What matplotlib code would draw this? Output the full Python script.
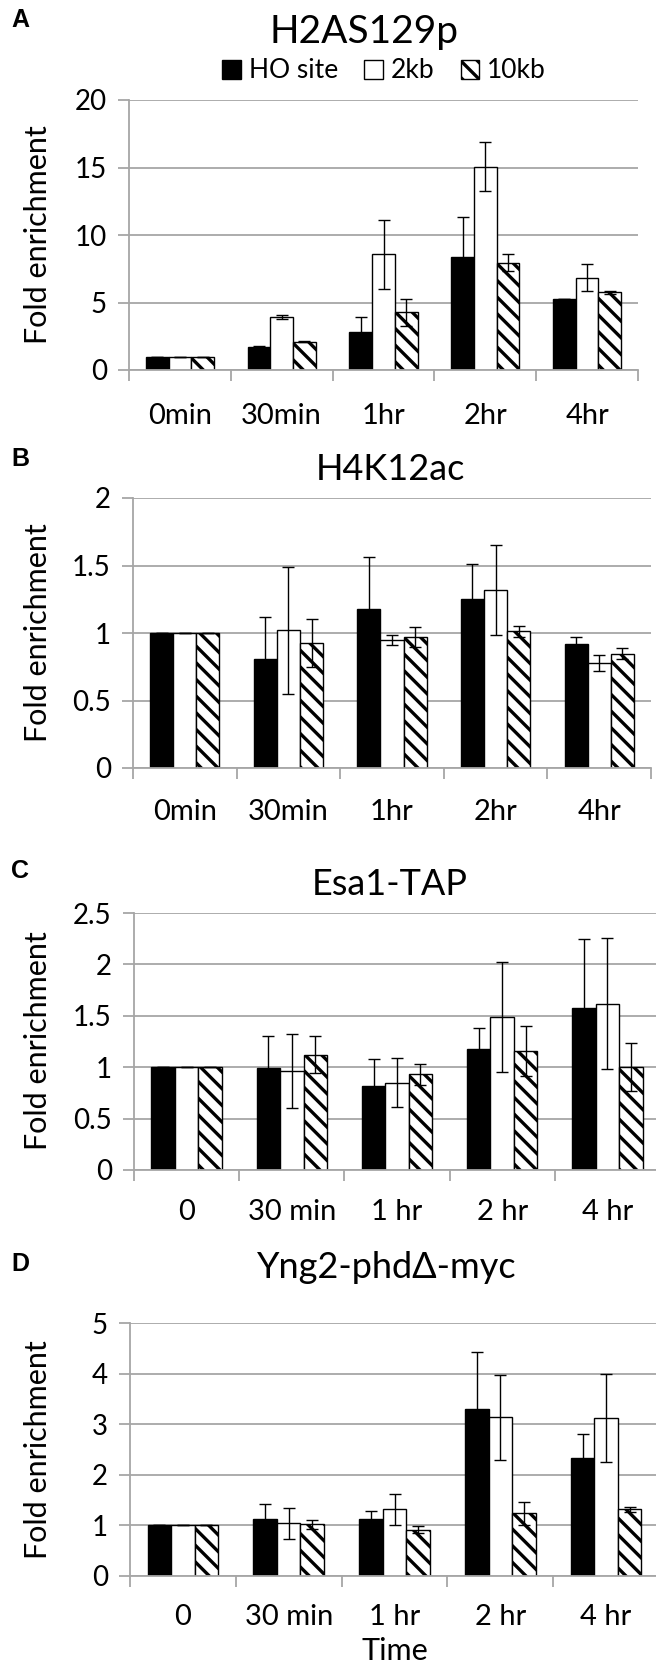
import matplotlib
matplotlib.use('Agg')
import matplotlib.pyplot as plt
from matplotlib.patches import Patch
import numpy as np

plt.rcParams['font.family'] = ['Lato', 'DejaVu Sans']
plt.rcParams['hatch.linewidth'] = 2.4

# ---------------- data ----------------
series = ["HO site", "2kb", "10kb"]
cats_ab = ["0min", "30min", "1hr", "2hr", "4hr"]
cats_cd = ["0", "30 min", "1 hr", "2 hr", "4 hr"]

a_ho = [1, 1.68, 2.84, 8.35, 5.26]
a_ho_err = [0, 0.08, 1.1, 2.95, 0.03]
a_2kb = [1, 3.9, 8.57, 15.06, 6.84]
a_2kb_err = [0, 0.15, 2.55, 1.8, 1.0]
a_10kb = [1, 2.1, 4.27, 7.95, 5.75]
a_10kb_err = [0, 0.05, 1.0, 0.65, 0.1]

b_ho = [1, 0.81, 1.18, 1.254, 0.916]
b_ho_err = [0, 0.31, 0.38, 0.255, 0.054]
b_2kb = [1, 1.02, 0.946, 1.32, 0.778]
b_2kb_err = [0, 0.47, 0.037, 0.335, 0.062]
b_10kb = [1, 0.926, 0.97, 1.012, 0.847]
b_10kb_err = [0, 0.18, 0.074, 0.043, 0.04]

c_ho = [1, 0.99, 0.818, 1.18, 1.58]
c_ho_err = [0, 0.315, 0.26, 0.2, 0.67]
c_2kb = [1, 0.967, 0.85, 1.49, 1.617]
c_2kb_err = [0, 0.36, 0.24, 0.535, 0.635]
c_10kb = [1, 1.12, 0.93, 1.16, 1.003]
c_10kb_err = [0, 0.18, 0.1, 0.245, 0.23]

d_ho = [1, 1.13, 1.12, 3.3, 2.34]
d_ho_err = [0, 0.3, 0.17, 1.13, 0.46]
d_2kb = [1, 1.04, 1.32, 3.14, 3.13]
d_2kb_err = [0, 0.3, 0.31, 0.84, 0.87]
d_10kb = [1, 1.02, 0.91, 1.24, 1.32]
d_10kb_err = [0, 0.09, 0.07, 0.23, 0.05]

titles = ["H2AS129p", "H4K12ac", "Esa1-TAP", "Yng2-phd\u0394-myc"]
letters = ["A", "B", "C", "D"]

# ---------------- layout ----------------
W, H = 656, 1663
fig = plt.figure(figsize=(W / 100, H / 100), dpi=100)
GRID = '#a6a6a6'


def axrect(l, r, t, b):
    return [l / W, 1 - b / H, (r - l) / W, (b - t) / H]


def panel(rect, cats, vals, errs, ymax, ystep, xpad):
    ax = fig.add_axes(rect)
    n = len(cats)
    x = np.arange(n)
    bw = 0.223
    styles = [dict(facecolor='black', edgecolor='black'),
              dict(facecolor='white', edgecolor='black'),
              dict(facecolor='white', edgecolor='black', hatch='\\\\')]
    for i, (v, e, st) in enumerate(zip(vals, errs, styles)):
        ax.bar(x + (i - 1) * bw, v, bw, linewidth=1, zorder=2, **st)
        ax.errorbar(x + (i - 1) * bw, v, yerr=e, fmt='none', ecolor='black',
                    elinewidth=1, capsize=4, capthick=1, zorder=3)
    ax.set_xlim(-0.5, n - 0.5)
    ax.set_ylim(0, ymax)
    ticks = np.arange(0, ymax + ystep / 2, ystep)
    ax.set_yticks(ticks)
    ax.set_yticklabels(['%g' % t for t in ticks], fontsize=20)
    ax.yaxis.grid(True, color=GRID, linewidth=1.3)
    ax.set_axisbelow(True)
    for s in ['top', 'right']:
        ax.spines[s].set_visible(False)
    for s in ['left', 'bottom']:
        ax.spines[s].set_color(GRID)
        ax.spines[s].set_linewidth(1.3)
    ax.set_xticks(np.arange(-0.5, n, 1))
    ax.set_xticklabels([''] * len(np.arange(-0.5, n, 1)))
    ax.set_xticks(x, minor=True)
    ax.set_xticklabels(cats, minor=True, fontsize=21)
    ax.tick_params(axis='x', which='major', length=8, width=1.3, color=GRID)
    ax.tick_params(axis='x', which='minor', length=0, pad=xpad)
    ax.tick_params(axis='y', length=8, width=1.3, color=GRID, pad=8)
    return ax


panel(axrect(129, 638, 100, 370), cats_ab, [a_ho, a_2kb, a_10kb],
      [a_ho_err, a_2kb_err, a_10kb_err], 20, 5, 24)
panel(axrect(133, 651, 498, 768), cats_ab, [b_ho, b_2kb, b_10kb],
      [b_ho_err, b_2kb_err, b_10kb_err], 2, 0.5, 22)
panel(axrect(134, 660, 913, 1170), cats_cd, [c_ho, c_2kb, c_10kb],
      [c_ho_err, c_2kb_err, c_10kb_err], 2.5, 0.5, 21)
panel(axrect(130, 659, 1323, 1576), cats_cd, [d_ho, d_2kb, d_10kb],
      [d_ho_err, d_2kb_err, d_10kb_err], 5, 1, 20)

# titles, letters, y labels
title_pos = [(364, 43), (390, 480), (390, 895), (387, 1278)]
title_size = [28, 26, 26, 26]
letter_pos = [(20, 20), (20, 459), (20, 871), (20, 1264)]
ylab_y = [235, 633, 1041, 1450]
for t, (tx, ty), fs, l, (lx, ly), yy in zip(titles, title_pos, title_size, letters,
                                           letter_pos, ylab_y):
    fig.text(tx / W, 1 - ty / H, t, fontsize=fs, ha='center', va='baseline')
    fig.text(lx / W, 1 - ly / H, l, fontsize=18, fontweight='bold', ha='center',
             va='center', family=['Liberation Sans', 'DejaVu Sans'])
    fig.text(38 / W, 1 - yy / H, 'Fold enrichment', fontsize=22, rotation=90,
             ha='center', va='center')

fig.text(395 / W, 1 - 1660 / H, 'Time', fontsize=22, ha='center', va='baseline')

handles = [Patch(facecolor='black', edgecolor='black', linewidth=1),
           Patch(facecolor='white', edgecolor='black', linewidth=1),
           Patch(facecolor='white', edgecolor='black', hatch='\\\\', linewidth=1)]
fig.legend(handles, series, loc='center', bbox_to_anchor=(384 / W, 1 - 71 / H),
           ncol=3, frameon=False, fontsize=19, handlelength=0.7, handleheight=0.7,
           columnspacing=1.0, handletextpad=0.3, borderpad=0, borderaxespad=0)

fig.savefig('out.png', dpi=100)
